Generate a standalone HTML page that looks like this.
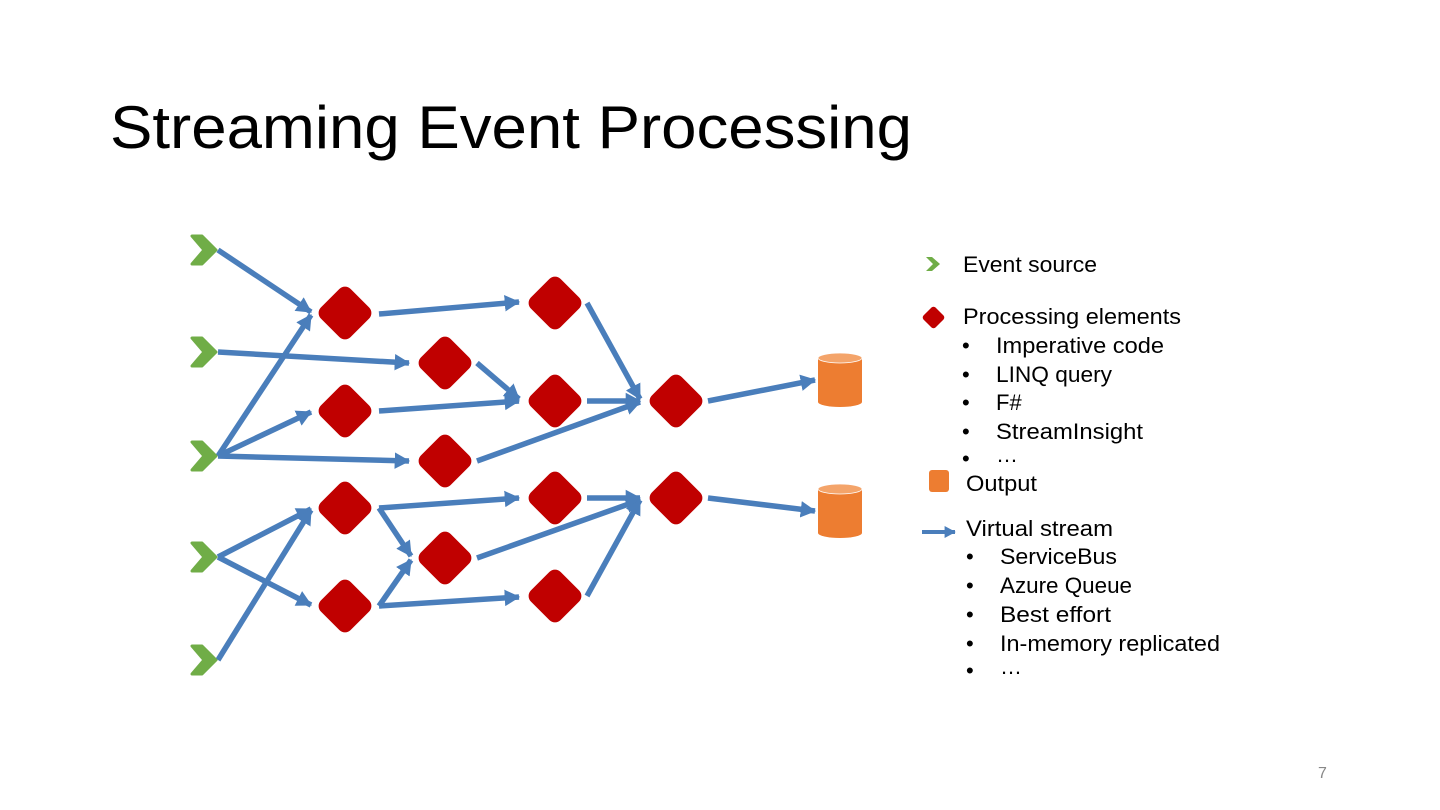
<!DOCTYPE html>
<html><head><meta charset="utf-8"><style>
body{margin:0;width:1440px;height:810px;background:#fff;overflow:hidden}
svg{display:block}
text{font-family:"Liberation Sans",sans-serif;fill:#000}
</style></head><body>
<svg width="1440" height="810" viewBox="0 0 1440 810">
<defs>
<marker id="ah" markerWidth="4" markerHeight="4" refX="2.6" refY="2" orient="auto" markerUnits="strokeWidth">
<path d="M0,0.5 L2.8,2 L0,3.5 Z" fill="#4A7EBB"/></marker>
<g id="dia"><rect x="-21" y="-21" width="42" height="42" rx="8" fill="#C00000" transform="rotate(45)"/></g>
<g id="chev"><path d="M-12,-14 L-2,-14 L12,0 L-2,14 L-12,14 L0,0 Z" fill="#70AD47" stroke="#70AD47" stroke-width="3" stroke-linejoin="round"/></g>
<g id="cyl"><path d="M-22,-22 L-22,22 A22,5 0 0 0 22,22 L22,-22 Z" fill="#ED7D31"/><ellipse cx="0" cy="-22" rx="22" ry="5" fill="#F4A46A" stroke="#fff" stroke-width="0.8"/></g>
</defs>
<text x="110" y="148" font-size="60" textLength="802" lengthAdjust="spacingAndGlyphs">Streaming Event Processing</text>
<g stroke="#4A7EBB" stroke-width="5.5" fill="none" marker-end="url(#ah)">
<line x1="218" y1="250" x2="311" y2="312"/>
<line x1="218" y1="456" x2="311" y2="315"/>
<line x1="379" y1="314" x2="519" y2="302"/>
<line x1="218" y1="352" x2="409" y2="363"/>
<line x1="218" y1="456" x2="311" y2="412"/>
<line x1="218" y1="456" x2="409" y2="461"/>
<line x1="477" y1="363" x2="519" y2="399"/>
<line x1="379" y1="411" x2="519" y2="401"/>
<line x1="587" y1="303" x2="640" y2="399"/>
<line x1="587" y1="401" x2="640" y2="401"/>
<line x1="477" y1="461" x2="640" y2="402"/>
<line x1="708" y1="401" x2="815" y2="380"/>
<line x1="218" y1="557" x2="311" y2="509"/>
<line x1="218" y1="557" x2="311" y2="605"/>
<line x1="218" y1="660" x2="311" y2="510"/>
<line x1="379" y1="508" x2="519" y2="498"/>
<line x1="379" y1="508" x2="411" y2="556"/>
<line x1="379" y1="606" x2="411" y2="560"/>
<line x1="379" y1="606" x2="519" y2="597"/>
<line x1="477" y1="558" x2="640" y2="500"/>
<line x1="587" y1="498" x2="640" y2="498"/>
<line x1="587" y1="596" x2="640" y2="500"/>
<line x1="708" y1="498" x2="815" y2="511"/>
<line x1="922" y1="532" x2="955" y2="532" stroke-width="4"/>
</g>
<use href="#chev" x="204" y="250"/><use href="#chev" x="204" y="352"/><use href="#chev" x="204" y="456"/><use href="#chev" x="204" y="557"/><use href="#chev" x="204" y="660"/>
<use href="#dia" x="345" y="313"/><use href="#dia" x="555" y="303"/><use href="#dia" x="445" y="363"/><use href="#dia" x="345" y="411"/><use href="#dia" x="555" y="401"/><use href="#dia" x="445" y="461"/><use href="#dia" x="676" y="401"/>
<use href="#dia" x="345" y="508"/><use href="#dia" x="555" y="498"/><use href="#dia" x="445" y="558"/><use href="#dia" x="345" y="606"/><use href="#dia" x="555" y="596"/><use href="#dia" x="676" y="498"/>
<use href="#cyl" x="840" y="380"/><use href="#cyl" x="840" y="511"/>
<path d="M926,257 L932,257 L940,264 L932,271 L926,271 L933,264 Z" fill="#70AD47"/>
<rect x="925" y="309" width="17" height="17" rx="3" fill="#C00000" transform="rotate(45 933.5 317.5)"/>
<rect x="929" y="470" width="20" height="22" rx="3" fill="#ED7D31"/>
<g font-size="22">
<text x="963" y="272" textLength="134" lengthAdjust="spacingAndGlyphs">Event source</text>
<text x="963" y="324" textLength="218" lengthAdjust="spacingAndGlyphs">Processing elements</text>
<text x="996" y="353" textLength="168" lengthAdjust="spacingAndGlyphs">Imperative code</text>
<text x="996" y="382" textLength="116" lengthAdjust="spacingAndGlyphs">LINQ query</text>
<text x="996" y="410">F#</text>
<text x="996" y="439" textLength="147" lengthAdjust="spacingAndGlyphs">StreamInsight</text>
<text x="996" y="462">…</text>
<text x="966" y="491" textLength="71" lengthAdjust="spacingAndGlyphs">Output</text>
<text x="966" y="536" textLength="147" lengthAdjust="spacingAndGlyphs">Virtual stream</text>
<text x="1000" y="564" textLength="117" lengthAdjust="spacingAndGlyphs">ServiceBus</text>
<text x="1000" y="593" textLength="132" lengthAdjust="spacingAndGlyphs">Azure Queue</text>
<text x="1000" y="622" textLength="111" lengthAdjust="spacingAndGlyphs">Best effort</text>
<text x="1000" y="651" textLength="220" lengthAdjust="spacingAndGlyphs">In-memory replicated</text>
<text x="1000" y="674">…</text>
</g>
<g font-size="22">
<text x="962" y="353">•</text><text x="962" y="382">•</text><text x="962" y="410">•</text><text x="962" y="439">•</text><text x="962" y="466">•</text>
<text x="966" y="564">•</text><text x="966" y="593">•</text><text x="966" y="622">•</text><text x="966" y="651">•</text><text x="966" y="678">•</text>
</g>
<text x="1318" y="778" font-size="16" style="fill:#888">7</text>
</svg>
</body></html>
